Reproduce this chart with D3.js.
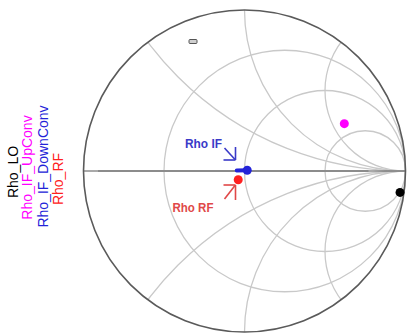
<!DOCTYPE html>
<html><head><meta charset="utf-8">
<script src="https://cdn.jsdelivr.net/npm/d3@7"></script>
<style>html,body{margin:0;padding:0;background:#fff;}svg{display:block;}</style>
</head><body>
<svg id="chart" width="407" height="333"></svg>
<script>
// ---- data ----
const resistanceValues = [1/3, 1, 3];
const reactanceValues = [0.5, 1, 2, -0.5, -1, -2];
const seriesNames = ["Rho_LO", "Rho_IF_UpConv", "Rho_IF_DownConv", "Rho_RF"];
const seriesColors = ["#000000", "#ff00ff", "#2323d8", "#ff2020"];
// reflection coefficient points (real, imag)
const rhoLO = [[0.966, -0.133]];
const rhoIFUp = [[0.62, 0.294]];
const rhoIFDown = [[-0.048, 0.003], [0.017, 0.005]];
const rhoRF = [[-0.039, -0.054]];
const annotations = [
  {text: "Rho IF", color: "#3a3ac8", target: [0.017, 0.005], dir: "down"},
  {text: "Rho RF", color: "#e04848", target: [-0.039, -0.054], dir: "up"}
];

// ---- layout ----
const svg = d3.select("#chart");
const cx = 244.5, cy = 171, R = 161;
const x = d3.scaleLinear().domain([-1, 1]).range([cx - R, cx + R]);
const y = d3.scaleLinear().domain([-1, 1]).range([cy + R, cy - R]);
const len = v => x(v) - x(0);

svg.append("clipPath").attr("id", "unit")
  .append("circle").attr("cx", x(0)).attr("cy", y(0)).attr("r", len(1));

const grid = svg.append("g").attr("clip-path", "url(#unit)")
  .attr("fill", "none").attr("stroke", "#c9c9c9").attr("stroke-width", 1.3);

grid.selectAll("circle.r").data(resistanceValues).join("circle")
  .attr("class", "r")
  .attr("cx", r => x(r / (1 + r))).attr("cy", y(0))
  .attr("r", r => len(1 / (1 + r)));

grid.selectAll("circle.x").data(reactanceValues).join("circle")
  .attr("class", "x")
  .attr("cx", x(1)).attr("cy", v => y(1 / v))
  .attr("r", v => len(1 / Math.abs(v)));

// real axis
svg.append("line").attr("x1", x(-1)).attr("x2", x(1)).attr("y1", y(0)).attr("y2", y(0))
  .attr("stroke", "#555").attr("stroke-width", 1);
svg.append("line").attr("x1", x(-0.91)).attr("x2", x(0.77)).attr("y1", y(0)).attr("y2", y(0))
  .attr("stroke", "#8c8c8c").attr("stroke-width", 2.2);

// outer circle
svg.append("circle").attr("cx", x(0)).attr("cy", y(0)).attr("r", len(1))
  .attr("fill", "none").attr("stroke", "#5a5a5a").attr("stroke-width", 1.6);

// small marker box
svg.append("rect").attr("x", 189).attr("y", 39.5).attr("width", 8).attr("height", 4).attr("rx", 1)
  .attr("fill", "#cfcfcf").attr("stroke", "#555").attr("stroke-width", 1);

// ---- series ----
const allSeries = [rhoLO, rhoIFUp, rhoIFDown, rhoRF];
const line = d3.line().x(d => x(d[0])).y(d => y(d[1]));
allSeries.forEach((s, i) => {
  if (s.length > 1) {
    svg.append("path").datum(s).attr("d", line).attr("fill", "none")
      .attr("stroke", seriesColors[i]).attr("stroke-width", 4).attr("stroke-linecap", "round");
  }
  const last = s[s.length - 1];
  svg.append("circle").attr("cx", x(last[0])).attr("cy", y(last[1])).attr("r", 4.5)
    .attr("fill", seriesColors[i]);
});

// ---- annotations ----
annotations.forEach(a => {
  const g = svg.append("g").attr("stroke", a.color).attr("stroke-width", 1.6).attr("fill", "none");
  const tx = x(a.target[0]), ty = y(a.target[1]);
  if (a.dir === "down") {
    const c = [235.5, 160];
    g.append("line").attr("x1", c[0] - 11).attr("y1", c[1] - 12).attr("x2", c[0] - 0.5).attr("y2", c[1] - 0.5);
    g.append("line").attr("x1", c[0]).attr("y1", c[1] - 13).attr("x2", c[0]).attr("y2", c[1]);
    g.append("line").attr("x1", c[0] - 12).attr("y1", c[1]).attr("x2", c[0]).attr("y2", c[1]);
    svg.append("text").attr("x", 185).attr("y", 148).text(a.text)
      .attr("fill", a.color).attr("font-family", "Liberation Sans Narrow, Arial Narrow, Liberation Sans, Arial, sans-serif")
      .attr("font-weight", "bold").attr("font-size", 13.5)
      .attr("textLength", 37).attr("lengthAdjust", "spacingAndGlyphs");
  } else {
    const c = [235.5, 185];
    g.append("line").attr("x1", c[0] - 11).attr("y1", c[1] + 14).attr("x2", c[0] - 0.5).attr("y2", c[1] + 0.5);
    g.append("line").attr("x1", c[0]).attr("y1", c[1] + 15).attr("x2", c[0]).attr("y2", c[1]);
    g.append("line").attr("x1", c[0] - 12).attr("y1", c[1]).attr("x2", c[0]).attr("y2", c[1]);
    svg.append("text").attr("x", 172.5).attr("y", 212).text(a.text)
      .attr("fill", a.color).attr("font-family", "Liberation Sans Narrow, Arial Narrow, Liberation Sans, Arial, sans-serif")
      .attr("font-weight", "bold").attr("font-size", 13.5)
      .attr("textLength", 41).attr("lengthAdjust", "spacingAndGlyphs");
  }
});

// ---- legend (rotated) ----
const legendX = [18, 32, 47.5, 63];
const legendY = [172, 167.5, 166.5, 179];
svg.append("g").selectAll("text").data(seriesNames).join("text")
  .attr("transform", (d, i) => `translate(${legendX[i]},${legendY[i]}) rotate(-90)`)
  .attr("text-anchor", "middle")
  .attr("font-family", "Liberation Sans, Arial, sans-serif")
  .attr("font-size", 14)
  .attr("fill", (d, i) => seriesColors[i])
  .text(d => d);
</script>
</body></html>
